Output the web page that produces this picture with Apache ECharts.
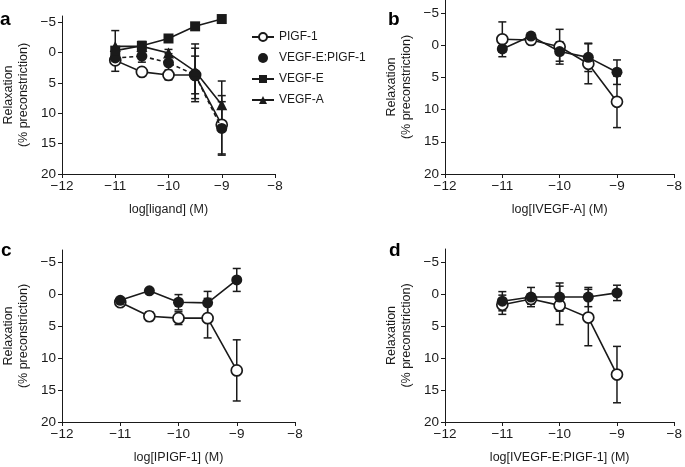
<!DOCTYPE html>
<html>
<head>
<meta charset="utf-8">
<script src="https://cdn.jsdelivr.net/npm/echarts@6/dist/echarts.min.js"></script>
<style>html,body{margin:0;padding:0;background:#fff}#c{width:685px;height:467px}</style>
</head>
<body>
<div id="c"></div>
<script>
// ---- data ----
const doses = [-11, -10.5, -10, -9.5, -9];
const xTicks = [-12, -11, -10, -9, -8];
const yTicks = [-5, 0, 5, 10, 15, 20];

// panel a
const aPIGF1 = [1.3, 3.2, 3.7, 3.7, 11.9];
const aPIGF1Err = [1.8, 0.6, 0.8, 3.1, 4.8];
const aVEGFEPIGF1 = [0.9, 0.6, 1.7, 3.7, 12.5];
const aVEGFEPIGF1Err = [0.8, 1.0, 1.5, 4.4, 4.4];
const aVEGFE = [-0.3, -1.1, -2.3, -4.3, -5.5];
const aVEGFEErr = [0.4, 0.4, 0.4, 0.4, 0.3];
const aVEGFA = [-1.0, -1.0, 0.1, 3.1, 8.6];
const aVEGFAErr = [2.6, 0.8, 0.6, 4.5, 3.9];

// panel b
const bOpen = [-0.9, -0.8, 0.25, 2.9, 8.8];
const bOpenErr = [2.7, 0.4, 2.7, 3.1, 4.0];
const bFilled = [0.6, -1.4, 1.0, 1.9, 4.2];
const bFilledErr = [0.5, 0.4, 1.5, 2.2, 1.9];

// panel c
const cOpen = [1.2, 3.4, 3.7, 3.7, 11.9];
const cOpenErr = [0.4, 0.7, 1.0, 3.1, 4.8];
const cFilled = [0.9, -0.6, 1.2, 1.3, -2.3];
const cFilledErr = [0.4, 0.3, 1.2, 1.8, 1.8];

// panel d
const dOpen = [1.7, 0.8, 1.8, 3.7, 12.6];
const dOpenErr = [1.5, 0.8, 3.0, 4.4, 4.4];
const dFilled = [1.15, 0.5, 0.5, 0.5, -0.15];
const dFilledErr = [1.5, 1.5, 2.2, 1.5, 1.2];

const xTitles = ['log[ligand] (M)', 'log[IVEGF-A] (M)', 'log[IPIGF-1] (M)', 'log[IVEGF-E:PIGF-1] (M)'];
const yTitle = 'Relaxation\n(% preconstriction)';
const panelLetters = ['a', 'b', 'c', 'd'];
const legendNames = ['PIGF-1', 'VEGF-E:PIGF-1', 'VEGF-E', 'VEGF-A'];

// ---- chart ----
const FONT = 'Liberation Sans, Arial, sans-serif';
const INK = '#1a1a1a';
const fmtMinus = v => String(v).replace('-', '\u2212');

const grids = [
  {left: 61, top: 16, width: 214, height: 158},
  {left: 445, top: 0, width: 231, height: 174},
  {left: 62, top: 250, width: 233, height: 172},
  {left: 445, top: 249, width: 235, height: 173}
];
const yMins = [-6, -7, -7, -7];

const xAxes = grids.map((g, i) => ({
  type: 'value', gridIndex: i, min: -12, max: -8, interval: 1,
  axisLine: {onZero: false, lineStyle: {color: INK, width: 1}},
  axisTick: {length: 4, lineStyle: {color: INK}},
  axisLabel: {color: INK, fontFamily: FONT, fontSize: 13.5, margin: 5, formatter: fmtMinus},
  splitLine: {show: false},
  name: xTitles[i], nameLocation: 'middle', nameGap: 29,
  nameTextStyle: {color: INK, fontFamily: FONT, fontSize: 12.5}
}));
const yAxes = grids.map((g, i) => ({
  type: 'value', gridIndex: i, inverse: true, min: yMins[i], max: 20,
  axisLine: {show: true, onZero: false, lineStyle: {color: INK, width: 1}},
  axisTick: {show: true, length: 4, lineStyle: {color: INK}, customValues: yTicks},
  axisLabel: {color: INK, fontFamily: FONT, fontSize: 13.5, margin: 6, formatter: fmtMinus, customValues: yTicks},
  splitLine: {show: false},
  name: yTitle, nameLocation: 'middle', nameRotate: 90, nameGap: 31,
  nameTextStyle: {color: INK, fontFamily: FONT, fontSize: 12.5, lineHeight: 15}
}));

function pairs(vals, errs) { return doses.map((d, k) => [d, vals[k], errs[k]]); }

function errRender(params, api) {
  const x = api.value(0), y = api.value(1), e = api.value(2);
  const t = api.coord([x, y - e]), b = api.coord([x, y + e]);
  const hw = 4, st = {stroke: INK, lineWidth: 1.5};
  return {type: 'group', children: [
    {type: 'line', shape: {x1: t[0], y1: t[1], x2: b[0], y2: b[1]}, style: st},
    {type: 'line', shape: {x1: t[0] - hw, y1: t[1], x2: t[0] + hw, y2: t[1]}, style: st},
    {type: 'line', shape: {x1: b[0] - hw, y1: b[1], x2: b[0] + hw, y2: b[1]}, style: st}
  ]};
}

const series = [];
function addSeries(name, idx, vals, errs, kind, dashed, z) {
  series.push({
    type: 'custom', name: name + ' err', xAxisIndex: idx, yAxisIndex: idx,
    renderItem: errRender, data: pairs(vals, errs), encode: {x: 0, y: 1}, z: 1, silent: true
  });
  const sym = {open: 'circle', filled: 'circle', square: 'rect', tri: 'triangle'}[kind];
  const size = {open: 11, filled: 11, square: 10, tri: 11}[kind];
  series.push({
    type: 'line', name: name, xAxisIndex: idx, yAxisIndex: idx,
    data: doses.map((d, k) => [d, vals[k]]),
    symbol: sym, symbolSize: size, showSymbol: true,
    lineStyle: {color: INK, width: 1.6, type: dashed ? [4, 3] : 'solid'},
    itemStyle: {color: kind === 'open' ? '#fff' : INK, borderColor: INK, borderWidth: kind === 'open' ? 1.7 : 0},
    z: z, animation: false
  });
}

addSeries('PIGF-1', 0, aPIGF1, aPIGF1Err, 'open', false, 3);
addSeries('VEGF-E:PIGF-1', 0, aVEGFEPIGF1, aVEGFEPIGF1Err, 'filled', true, 4);
addSeries('VEGF-E', 0, aVEGFE, aVEGFEErr, 'square', false, 5);
addSeries('VEGF-A', 0, aVEGFA, aVEGFAErr, 'tri', false, 6);
addSeries('b open', 1, bOpen, bOpenErr, 'open', false, 3);
addSeries('b filled', 1, bFilled, bFilledErr, 'filled', false, 4);
addSeries('c open', 2, cOpen, cOpenErr, 'open', false, 3);
addSeries('c filled', 2, cFilled, cFilledErr, 'filled', false, 4);
addSeries('d open', 3, dOpen, dOpenErr, 'open', false, 3);
addSeries('d filled', 3, dFilled, dFilledErr, 'filled', false, 4);

const letterPos = [[0, 10], [388, 10], [1, 241], [389, 241]];
const graphics = panelLetters.map((L, i) => ({
  type: 'text', left: letterPos[i][0], top: letterPos[i][1],
  style: {text: L, fill: '#000', font: 'bold 19px ' + FONT}
}));

const chart = echarts.init(document.getElementById('c'), null, {renderer: 'canvas'});
chart.setOption({
  animation: false,
  backgroundColor: '#fff',
  grid: grids.map(g => Object.assign({containLabel: false}, g)),
  xAxis: xAxes,
  yAxis: yAxes,
  legend: {
    left: 246, top: 26, orient: 'vertical', itemGap: 9, itemWidth: 22, itemHeight: 10,
    selectedMode: false,
    textStyle: {color: INK, fontFamily: FONT, fontSize: 12},
    data: legendNames.map(n => n === 'VEGF-E:PIGF-1' ? {name: n, icon: 'circle'} : {name: n})
  },
  graphic: graphics,
  series: series
});
</script>
</body>
</html>
